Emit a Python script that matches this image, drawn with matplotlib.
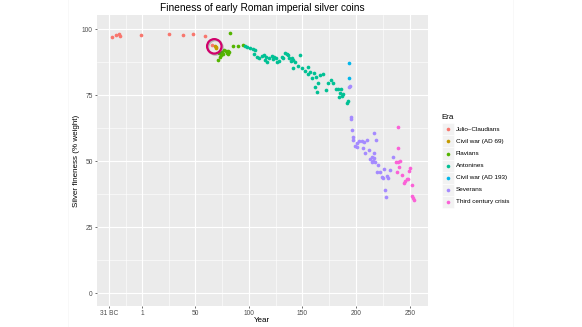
import matplotlib
matplotlib.use('Agg')
from matplotlib import pyplot as plt
from matplotlib.patches import Rectangle
from matplotlib.lines import Line2D
import matplotlib.patheffects as pe
import numpy as np

plt.rcParams['font.family'] = ['Liberation Sans', 'DejaVu Sans']

# eras and ggplot hue colours
eras = ['Julio\u2013Claudians', 'Civil war (AD 69)', 'Flavians', 'Antonines',
        'Civil war (AD 193)', 'Severans', 'Third century crisis']
colors = ['#F8766D', '#C49A00', '#53B400', '#00C094', '#00B6EB', '#A58AFF', '#FB61D7']

# year (negative = BC), fineness in % silver
jc_year = [-27.5, -23, -20.5, -19.5, 0, 25.5, 39, 48, 59, 66]
jc_fine = [97.0, 97.7, 98.2, 97.5, 97.9, 98.2, 97.9, 98.1, 97.5, 94.0]

cw69_year = [68.5, 69.3, 69.8]
cw69_fine = [93.6, 92.8, 93.3]

fl_year = [71.7, 73.3, 74.2, 74.9, 76.4, 77.3, 78.6, 79.5, 80.4, 81.0, 81.7, 72.5,
           82.6, 85.7, 90.5, 94.4]
fl_fine = [88.5, 89.4, 90.4, 91.4, 90.7, 92.3, 91.7, 91.0, 91.9, 90.7, 91.4, 91.0,
           98.4, 93.6, 93.7, 94.1]

an_year = [96.5, 98.7, 101.2, 103.7, 105.8, 104.9, 107.4, 109.8, 112.1, 114.2,
           116.1, 115.1, 117.3, 119.1, 121.4, 122.3, 123.5, 125.4, 126.6, 128.4,
           130.7, 132.2, 133.7, 135.3, 136.8, 137.7, 140.0, 139.0, 141.5, 143.1,
           141.0, 147.7, 146.1, 149.3, 152.4, 154.9, 155.4, 157.0, 160.7, 158.6,
           162.6, 166.3, 168.8, 164.7, 161.7, 163.2, 174.0, 176.3, 178.7, 171.9,
           181.2, 183.3, 185.6, 184.9, 187.4, 184.3, 186.5, 192.6, 191.1]
an_fine = [93.6, 93.3, 92.8, 92.4, 92.0, 90.5, 89.5, 89.0, 89.9, 90.3,
           89.5, 88.2, 87.7, 89.0, 89.9, 88.6, 89.5, 89.0, 87.7, 88.0,
           89.5, 89.0, 91.1, 90.7, 90.3, 89.3, 89.0, 88.0, 88.2, 87.7,
           85.4, 90.3, 85.9, 85.4, 84.1, 85.6, 83.1, 84.0, 83.4, 81.5,
           81.8, 82.7, 83.0, 79.6, 78.1, 76.4, 79.6, 80.6, 79.8, 77.0,
           77.3, 77.5, 77.3, 75.8, 75.5, 74.5, 74.8, 73.0, 72.2]

cw193_year = [193.6, 193.6]
cw193_fine = [87.4, 81.5]

sv_year = [194.2, 193.6, 194.9, 195.4, 196.3, 197.3, 197.3, 198.9, 200.4, 201.0,
           202.9, 205.1, 207.2, 209.7, 206.6, 208.2, 212.2, 216.6, 218.1, 216.6,
           214.4, 212.8, 215.3, 216.6, 217.5, 214.4, 220.6, 219.1, 225.8, 222.1,
           223.7, 225.2, 228.3, 229.8, 231.4, 226.8, 227.7, 234.0]
sv_fine = [78.6, 78.1, 66.9, 66.0, 61.7, 59.2, 57.9, 55.9, 55.6, 57.1,
           57.8, 57.5, 57.3, 57.9, 55.0, 53.3, 54.3, 60.7, 58.1, 53.3,
           51.8, 50.8, 50.3, 51.2, 49.9, 49.9, 48.7, 46.1, 47.0, 46.1,
           44.0, 43.6, 44.5, 43.6, 46.8, 39.2, 36.5, 51.7]

tc_year = [239.1, 239.1, 237.0, 239.1, 240.7, 237.7, 240.1, 242.3, 245.4, 247.0,
           248.4, 244.4, 250.0, 249.3, 251.6, 251.6, 253.1, 254.0]
tc_fine = [62.9, 55.0, 49.8, 49.9, 50.1, 46.1, 47.8, 44.9, 42.7, 43.3,
           43.4, 41.8, 47.4, 46.5, 41.1, 36.7, 36.1, 35.4]

x_ticks = [-30, 1, 50, 100, 150, 200, 250]
x_labels = ['31 BC', '1', '50', '100', '150', '200', '250']
y_ticks = [0, 25, 50, 75, 100]

series = [(jc_year, jc_fine), (cw69_year, cw69_fine), (fl_year, fl_fine),
          (an_year, an_fine), (cw193_year, cw193_fine), (sv_year, sv_fine),
          (tc_year, tc_fine)]

W, H = 582, 327
fig = plt.figure(figsize=(W / 100, H / 100), dpi=100)


def fx(px):
    return px / W


def fy(py):
    return 1 - py / H


# panel placement (pixels)
left, right, top, bottom = 96.7, 428, 15, 306
ax = fig.add_axes([fx(left), fy(bottom), fx(right - left), (bottom - top) / H])
ax.set_facecolor('#EBEBEB')
for s in ax.spines.values():
    s.set_visible(False)

ax.set_xlim(-41.4, 266.8)
ax.set_ylim(-4.8, 105.4)

ax.set_xticks(x_ticks)
ax.set_xticklabels(x_labels)
ax.set_yticks(y_ticks)
ax.set_xticks([(a + b) / 2 for a, b in zip(x_ticks[:-1], x_ticks[1:])], minor=True)
ax.set_yticks([(a + b) / 2 for a, b in zip(y_ticks[:-1], y_ticks[1:])], minor=True)
ax.grid(which='major', color='white', linewidth=0.8)
ax.grid(which='minor', color='white', linewidth=0.4)
ax.set_axisbelow(True)
ax.tick_params(which='major', length=1.6, width=0.5, color='#333333',
               labelsize=4.8, labelcolor='#4D4D4D', pad=1.2)
ax.tick_params(which='minor', length=0)

for (xs, ys), c in zip(series, colors):
    ax.scatter(xs, ys, s=7, color=c, linewidths=0, zorder=3)

# highlight ring round the AD 69 civil war coins
cx, cy = np.mean(cw69_year) - 1.2, np.mean(cw69_fine) + 0.3
ax.plot([cx], [cy], marker='o', ms=10.4, mfc='none', mec='#D1006B', mew=1.6, zorder=4,
        path_effects=[pe.SimpleLineShadow(offset=(0.8, -0.8), shadow_color='#555555', alpha=0.35),
                      pe.Normal()])

# titles
fig.text(fx((left + right) / 2), fy(8), 'Fineness of early Roman imperial silver coins',
         ha='center', va='center', fontsize=7.3)
fig.text(fx((left + right) / 2), fy(321), 'Year', ha='center', va='center', fontsize=5.8)
fig.text(fx(76), fy((top + bottom) / 2), 'Silver fineness (% weight)', rotation=90,
         ha='center', va='center', fontsize=5.8)

# legend drawn by hand, ggplot style
fig.text(fx(441.5), fy(117), 'Era', ha='left', va='center', fontsize=5.8)
row0, step, key = 129.3, 12.1, 11.5
for i, (era, c) in enumerate(zip(eras, colors)):
    yc = row0 + i * step
    fig.add_artist(Rectangle((fx(442), fy(yc + step / 2)), key / W, step / H,
                             transform=fig.transFigure, facecolor='#F2F2F2',
                             edgecolor='white', linewidth=0.4))
    fig.add_artist(Line2D([fx(442 + key / 2)], [fy(yc)], marker='o', ms=2.6,
                          color=c, mew=0, transform=fig.transFigure))
    fig.text(fx(456), fy(yc), era, ha='left', va='center', fontsize=4.6)

# faint slide edges
for xl in (68.3, 513.3):
    fig.add_artist(Line2D([fx(xl), fx(xl)], [0, 1], color='#F7F7F7', linewidth=0.6,
                          transform=fig.transFigure))

fig.savefig('out.png', dpi=100)
